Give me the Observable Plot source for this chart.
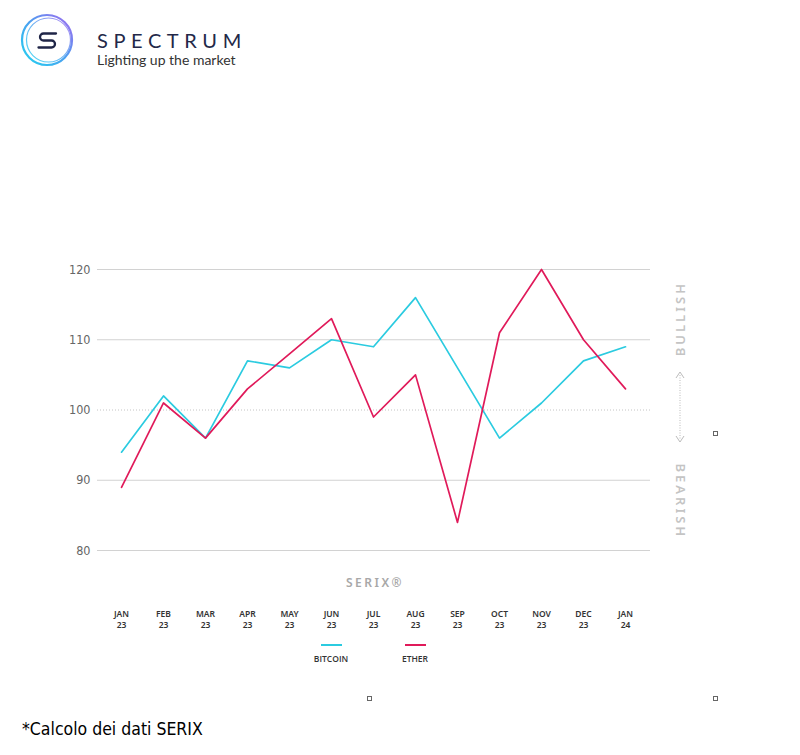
<!DOCTYPE html>
<html><head><meta charset="utf-8">
<script src="https://cdn.jsdelivr.net/npm/d3@7"></script>
<script src="https://cdn.jsdelivr.net/npm/@observablehq/plot@0.6"></script>
<style>
body{margin:0;background:#fff;width:800px;height:755px;position:relative;overflow:hidden;font-family:"Open Sans",sans-serif;}
#chart{position:absolute;left:0;top:0;}
#logo{position:absolute;left:20px;top:13px;}
#brand{position:absolute;left:97px;top:30px;font-size:20px;letter-spacing:5.6px;color:#232848;font-family:Lato,sans-serif;line-height:1;}
#tag{position:absolute;left:97px;top:53px;font-size:14px;color:#333;font-family:Lato,sans-serif;line-height:1;}
#deco{position:absolute;left:0;top:0;}
.leg{position:absolute;top:644px;font-size:8.5px;font-weight:600;color:#333;text-align:center;width:60px;}
.leg span{display:block;width:21px;height:2px;margin:0 auto 7px auto;}
.sq{position:absolute;width:3px;height:3px;border:1px solid #666;}
#foot{position:absolute;left:22px;top:719px;font-size:17.5px;color:#000;font-family:"Liberation Sans Narrow","DejaVu Sans Condensed",sans-serif;}
</style></head><body>
<div id="chart"></div>
<svg id="logo" width="60" height="60" viewBox="0 0 60 60">
  <defs>
    <linearGradient id="g" x1="0" y1="1" x2="1" y2="0">
      <stop offset="0" stop-color="#22d3f0"/>
      <stop offset="0.5" stop-color="#4aa0f0"/>
      <stop offset="1" stop-color="#a468f0"/>
    </linearGradient>
  </defs>
  <circle cx="27" cy="27" r="25" fill="none" stroke="url(#g)" stroke-width="2.2"/>
  <circle cx="28.5" cy="27" r="22" fill="none" stroke="url(#g)" stroke-width="1.2" opacity="0.8"/>
  <path d="M36 20.5 H23.5 a3.5 3.5 0 0 0 0 7 H31.5 a3.5 3.5 0 0 1 0 7 H18.5" fill="none" stroke="#1f2547" stroke-width="2.3" stroke-linecap="round"/>
</svg>
<div id="brand">SPECTRUM</div>
<div id="tag">Lighting up the market</div>
<svg id="deco" width="800" height="755">
  <line x1="680" y1="375" x2="680" y2="439" stroke="#bbb" stroke-width="1" stroke-dasharray="1,1.5"/>
  <polyline points="676,378 680,372 684,378" fill="none" stroke="#bbb" stroke-width="1"/>
  <polyline points="676,436 680,442 684,436" fill="none" stroke="#bbb" stroke-width="1"/>
</svg>
<div class="leg" style="left:301px"><span style="background:#2bcbe0"></span>BITCOIN</div>
<div class="leg" style="left:385px"><span style="background:#e01a5a"></span>ETHER</div>
<div class="sq" style="left:713px;top:431px"></div>
<div class="sq" style="left:367px;top:696px"></div>
<div class="sq" style="left:713px;top:696px"></div>
<div id="foot">*Calcolo dei dati SERIX</div>
<script>
const months = ["JAN\n23","FEB\n23","MAR\n23","APR\n23","MAY\n23","JUN\n23","JUL\n23","AUG\n23","SEP\n23","OCT\n23","NOV\n23","DEC\n23","JAN\n24"];
const bitcoin = [94,102,96,107,106,110,109,116,106,96,101,107,109];
const ether = [89,101,96,103,108,113,99,105,84,111,120,110,103];
const yTicks = [80,90,100,110,120];
const seriesNames = ["BITCOIN","ETHER"];
const seriesColors = ["#2bcbe0","#e01a5a"];
const sides = [{label:"BULLISH", y:113, rotate:-90},{label:"BEARISH", y:87, rotate:90}];

const data = months.flatMap((m,i)=>[
  {month:m, value:bitcoin[i], series:"BITCOIN"},
  {month:m, value:ether[i], series:"ETHER"}
]);

const chart = Plot.plot({
  width:800, height:755,
  marginLeft:97, marginRight:150, marginTop:269, marginBottom:205,
  x:{type:"point", domain:months, range:[120,625], padding:0, axis:null},
  y:{domain:[80,120]},
  color:{domain:seriesNames, range:seriesColors},
  marks:[
    Plot.ruleY(yTicks.filter(d=>d!==100), {stroke:"#d2d2d2", strokeWidth:1}),
    Plot.ruleY([100], {stroke:"#c4c4c4", strokeWidth:1, strokeDasharray:"1,2"}),
    Plot.axisY({ticks:yTicks, tickSize:0, tickPadding:7, fontSize:12.5, fill:"#666", label:null,
      fontFamily:"'Liberation Sans Narrow','DejaVu Sans Condensed',sans-serif"}),
    Plot.line(data, {x:"month", y:"value", stroke:"series", strokeWidth:1.7}),
    Plot.text(months, {x:d=>d, text:d=>d, frameAnchor:"bottom", dy:59, lineAnchor:"top",
      fontSize:8.5, fill:"#333", lineHeight:1.25, fontWeight:600}),
    Plot.text(["SERIX®"], {text:d=>d, frameAnchor:"bottom", dy:36, dx:1, fontSize:12, fill:"#a8a8a8", fontWeight:600}),
    Plot.text(sides, {y:"y", text:"label", rotate:"rotate", frameAnchor:"right", textAnchor:"middle", dx:30,
      fontSize:13, fill:"#c4c4c4", fontWeight:600})
  ]
});
d3.select(chart).selectAll("text").filter(function(){return this.textContent==="SERIX®";}).attr("letter-spacing","2.5px");
d3.select(chart).selectAll("text").filter(function(){return this.textContent==="BULLISH"||this.textContent==="BEARISH";}).attr("letter-spacing","3px");
document.getElementById("chart").appendChild(chart);
</script>
</body></html>
